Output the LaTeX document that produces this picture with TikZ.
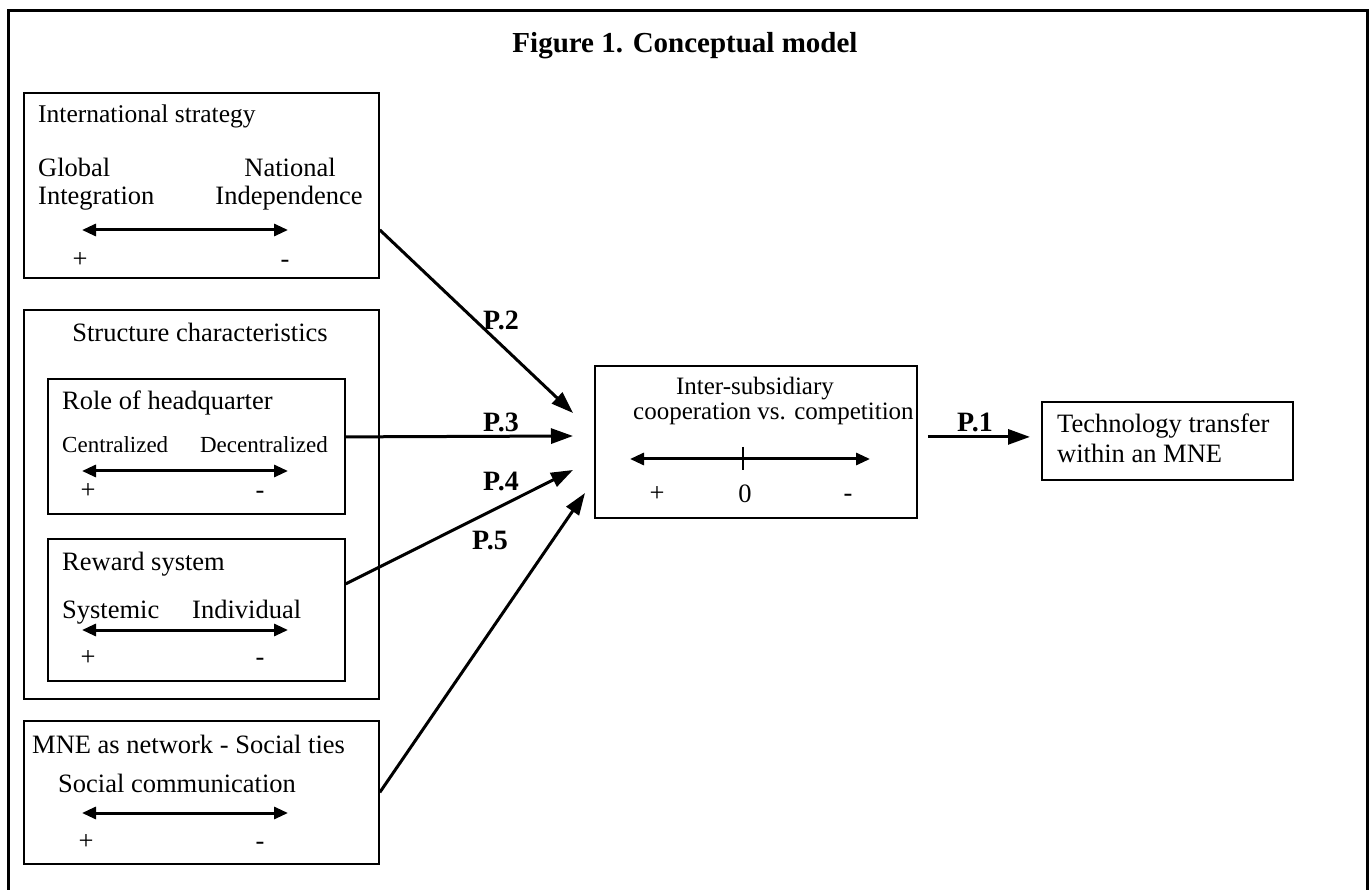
\documentclass[tikz,border=0pt]{standalone}
\usepackage{fontspec}
\setmainfont{Liberation Serif}
\usetikzlibrary{arrows.meta}
\begin{document}
\begin{tikzpicture}[x=1pt,y=-1pt,
  box/.style={draw, line width=1.8pt, inner sep=0pt, anchor=north west},
  txt/.style={font=\fontsize{26.5}{30}\selectfont, inner sep=0pt},
  mtxt/.style={font=\fontsize{25}{29}\selectfont, inner sep=0pt},
  sml/.style={font=\fontsize{23}{27}\selectfont, inner sep=0pt},
  plab/.style={font=\fontsize{28}{32}\selectfont\bfseries, inner sep=0pt, anchor=base west},
  dbl/.style={{Triangle[length=14pt,width=12pt]}-{Triangle[length=14pt,width=12pt]}, line width=3pt},
  conn/.style={-{Triangle[length=22pt,width=15pt]}, line width=3pt}]
\useasboundingbox (0,0) rectangle (1369,890);
\draw[line width=3pt] (8,900) -- (8,11) -- (1367,11) -- (1367,900);
\node[font=\fontsize{29}{33}\selectfont\bfseries, inner sep=0pt, anchor=base] (title) at (685,53) {Figure 1. Conceptual model};

% International strategy
\node[box, minimum width=355pt, minimum height=185pt] (b1) at (23,92) {};
\node[font=\fontsize{25.5}{29}\selectfont, inner sep=0pt, anchor=base west] (b1t) at (38,123) {International strategy};
\node[txt, anchor=base west] (b1a) at (38,177) {Global};
\node[txt, anchor=base west] (b1b) at (38,205) {Integration};
\node[txt, anchor=base] (b1c) at (290,177) {National};
\node[txt, anchor=base] (b1d) at (289,205) {Independence};
\coordinate (b1l) at (82,230); \coordinate (b1r) at (288,230);
\draw[dbl] (b1l) -- (b1r);
\node[txt, anchor=base] (b1p) at (80,268) {+};
\node[txt, anchor=base] (b1m) at (285,268) {-};

% Structure characteristics
\node[box, minimum width=355pt, minimum height=389pt] (b2) at (23,309) {};
\node[txt, anchor=base] (b2t) at (200,342) {Structure characteristics};
\node[box, minimum width=297pt, minimum height=135pt] (rh) at (47,378) {};
\node[txt, anchor=base west] (rht) at (62,410) {Role of headquarter};
\node[sml, anchor=base west] (rha) at (62,453) {Centralized};
\node[sml, anchor=base east] (rhb) at (328,453) {Decentralized};
\coordinate (rhl) at (82,471); \coordinate (rhr) at (288,471);
\draw[dbl] (rhl) -- (rhr);
\node[txt, anchor=base] (rhp) at (88,499) {+};
\node[txt, anchor=base] (rhm) at (260,499) {-};

\node[box, minimum width=297pt, minimum height=142pt] (rs) at (47,538) {};
\node[txt, anchor=base west] (rst) at (62,570) {Reward system};
\node[txt, anchor=base west] (rsa) at (62,618) {Systemic};
\node[txt, anchor=base west] (rsb) at (192,618) {Individual};
\coordinate (rsl) at (82,630); \coordinate (rsr) at (288,630);
\draw[dbl] (rsl) -- (rsr);
\node[txt, anchor=base] (rsp) at (88,665) {+};
\node[txt, anchor=base] (rsm) at (260,665) {-};

% MNE as network
\node[box, minimum width=355pt, minimum height=143pt] (b3) at (23,720) {};
\node[txt, anchor=base west] (b3t) at (32,753) {MNE as network - Social ties};
\node[txt, anchor=base west] (b3a) at (58,792) {Social communication};
\coordinate (b3l) at (82,813); \coordinate (b3r) at (288,813);
\draw[dbl] (b3l) -- (b3r);
\node[txt, anchor=base] (b3p) at (86,849) {+};
\node[txt, anchor=base] (b3m) at (260,849) {-};

% Middle box
\node[box, minimum width=322pt, minimum height=152pt] (mid) at (594,365) {};
\node[mtxt, anchor=base] (midt) at (755,395) {Inter-subsidiary};
\node[mtxt, anchor=base west] (midu) at (633,420) {cooperation vs. competition};
\coordinate (midl) at (630,459); \coordinate (midr) at (870,459);
\draw[dbl] (midl) -- (midr);
\coordinate (tk1) at (743,447); \coordinate (tk2) at (743,470);
\draw[line width=1.6pt] (tk1) -- (tk2);
\node[txt, anchor=base] (midp) at (657,501) {+};
\node[txt, anchor=base] (mid0) at (745,503) {0};
\node[txt, anchor=base] (midm) at (848,501) {-};

% Technology transfer
\node[box, minimum width=251pt, minimum height=78pt] (tech) at (1041,401) {};
\node[txt, anchor=base west] (techa) at (1057,433) {Technology transfer};
\node[txt, anchor=base west] (techb) at (1057,463) {within an MNE};

% connectors
\coordinate (t2) at (573,413);
\coordinate (t3) at (573,436);
\coordinate (t4) at (573,470);
\coordinate (t5) at (585,493);
\draw[conn] ([yshift=-44.5pt]b1.east) -- (t2);
\draw[conn] ([yshift=9.5pt]rh.east) -- (t3);
\draw[conn] ([yshift=26pt]rs.east) -- (t4);
\draw[conn] (b3.east) -- (t5);
\draw[conn] ([xshift=10pt,yshift=5pt]mid.east) -- ([xshift=-11pt,yshift=4pt]tech.west);

\node[plab] (p2) at (483,330) {P.2};
\node[plab] (p3) at (483,432) {P.3};
\node[plab] (p4) at (483,491) {P.4};
\node[plab] (p5) at (472,550) {P.5};
\node[plab] (p1) at (957,432) {P.1};
\end{tikzpicture}
\end{document}
